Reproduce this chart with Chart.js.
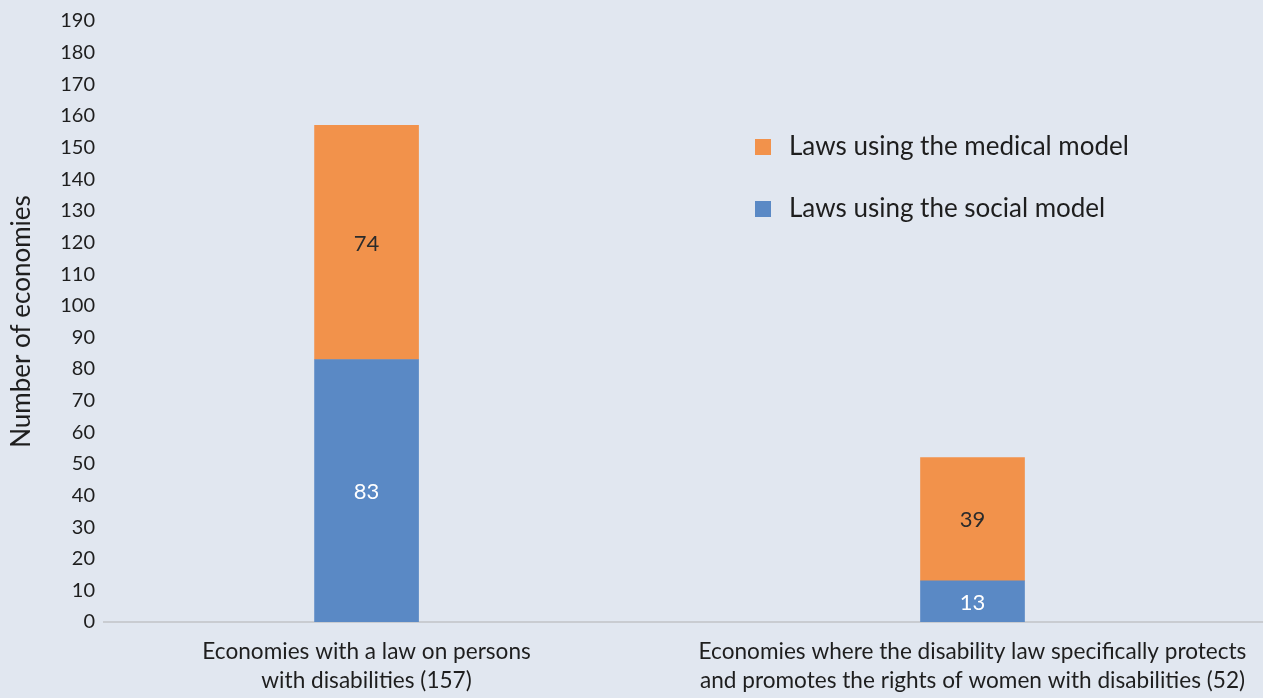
<!DOCTYPE html>
<html>
<head>
<meta charset="utf-8">
<title>Disability laws</title>
<script src="https://cdn.jsdelivr.net/npm/chart.js@4"></script>
<style>
  html, body { margin: 0; padding: 0; background: #e1e7f0; overflow: hidden; }
  #wrap { width: 1263px; height: 698px; position: relative; }
</style>
</head>
<body>
<div id="wrap"><canvas id="chart"></canvas></div>
<script>
// categories (multi-line labels) and series values
const categories = [
    ['Economies with a law on persons', 'with disabilities (157)'],
    ['Economies where the disability law specifically protects', 'and promotes the rights of women with disabilities (52)']
];
const socialModel = [83, 13];
const medicalModel = [74, 39];
const seriesNames = ['Laws using the social model', 'Laws using the medical model'];
const yTicks = { min: 0, max: 190, step: 10 };

const FONT = 'Lato, "Noto Sans", sans-serif';
const TEXT = '#1e1e1e';

// value labels centred in each segment
const segmentLabels = {
    id: 'segmentLabels',
    afterDatasetsDraw(chart) {
        const ctx = chart.ctx;
        ctx.save();
        ctx.font = '22px ' + FONT;
        ctx.textAlign = 'center';
        ctx.textBaseline = 'middle';
        chart.data.datasets.forEach((ds, di) => {
            const meta = chart.getDatasetMeta(di);
            meta.data.forEach((bar, i) => {
                const p = bar.getProps(['x', 'y', 'base'], true);
                ctx.fillStyle = ds.labelColor;
                ctx.fillText(String(ds.data[i].y), p.x, (p.y + p.base) / 2 + 1);
            });
        });
        ctx.restore();
    }
};

// legend drawn as a column, medical model on top
const sideLegend = {
    id: 'sideLegend',
    afterDraw(chart, args, opts) {
        const ctx = chart.ctx;
        ctx.save();
        ctx.font = opts.font;
        ctx.textBaseline = 'middle';
        const order = [1, 0];
        order.forEach((di, row) => {
            const ds = chart.data.datasets[di];
            const cy = opts.top + row * opts.rowGap;
            ctx.fillStyle = ds.backgroundColor;
            ctx.fillRect(opts.left, cy - 8, 16, 16);
            ctx.fillStyle = TEXT;
            ctx.fillText(ds.label, opts.left + 34, cy);
        });
        ctx.restore();
    }
};

const toPoints = (arr) => arr.map((v, i) => ({ x: i, y: v }));

new Chart(document.getElementById('chart'), {
    type: 'bar',
    data: {
        datasets: [
            {
                label: seriesNames[0],
                data: toPoints(socialModel),
                backgroundColor: '#5a89c5',
                labelColor: '#ffffff',
                barThickness: 104
            },
            {
                label: seriesNames[1],
                data: toPoints(medicalModel),
                backgroundColor: '#f2924b',
                labelColor: '#2b2b2b',
                barThickness: 104
            }
        ]
    },
    plugins: [segmentLabels, sideLegend],
    options: {
        responsive: true,
        maintainAspectRatio: false,
        animation: false,
        layout: { padding: { top: 12, right: 0, left: 6, bottom: 0 } },
        plugins: {
            legend: { display: false },
            tooltip: { enabled: false },
            sideLegend: { left: 755, top: 147, rowGap: 62, font: '26px ' + FONT }
        },
        scales: {
            x: {
                type: 'linear',
                stacked: true,
                offset: false,
                min: -0.4333,
                max: 1.4794,
                afterBuildTicks: (scale) => {
                    scale.ticks = categories.map((c, i) => ({ value: i }));
                },
                afterFit: (scale) => { scale.height = 76; },
                grid: { display: false, drawTicks: false },
                border: { display: true, color: '#c9ccd1', width: 2 },
                ticks: {
                    autoSkip: false,
                    maxRotation: 0,
                    padding: 15,
                    color: TEXT,
                    font: { family: FONT, size: 22.6, lineHeight: 1.3 },
                    callback: (v) => categories[v]
                }
            },
            y: {
                stacked: true,
                min: yTicks.min,
                max: yTicks.max,
                grid: { display: false, drawTicks: false },
                border: { display: false },
                ticks: {
                    stepSize: yTicks.step,
                    padding: 9,
                    color: TEXT,
                    font: { family: FONT, size: 20 }
                },
                title: {
                    display: true,
                    text: 'Number of economies',
                    color: TEXT,
                    padding: { top: 0, bottom: 14 },
                    font: { family: FONT, size: 26 }
                }
            }
        }
    }
});
</script>
</body>
</html>
